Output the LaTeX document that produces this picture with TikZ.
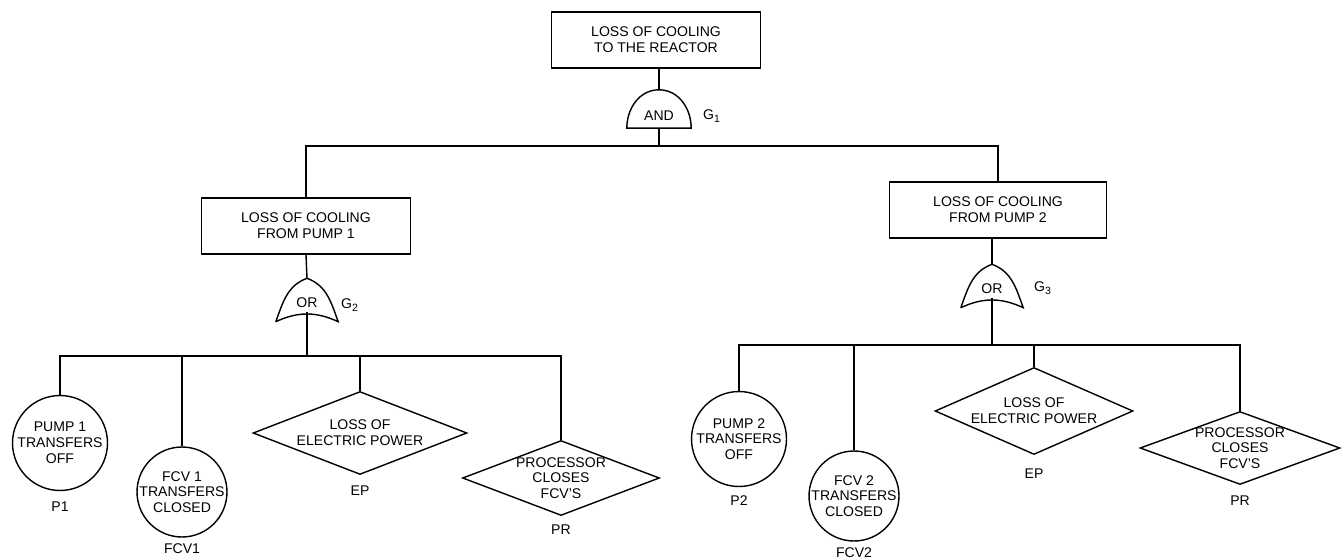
\documentclass[tikz,border=0pt]{standalone}
\usepackage{fontspec}
\setmainfont{Liberation Sans}
\usetikzlibrary{positioning, shapes.geometric}

\begin{document}
\begin{tikzpicture}[
    x=0.02cm, y=0.02cm,
    line width=0.8pt,
    every node/.style={font=\fontsize{8}{9}\selectfont},
    evbox/.style={draw, rectangle, minimum width=4.18cm, minimum height=1.12cm, align=center, inner sep=0pt},
    andgate/.style={inner sep=0pt, minimum width=1.26cm, text height=0.61cm, text depth=0.13cm},
    orgate/.style={inner sep=0pt, minimum width=1.22cm, text height=0.56cm, text depth=0.28cm},
    gid/.style={inner sep=0pt},
    evcirc/.style={draw, circle, inner sep=0pt, minimum size=1.9cm},
    evdiam/.style={draw, diamond, inner sep=0pt},
    evtext/.style={align=center, inner sep=0pt},
    evid/.style={inner sep=0pt, label distance=2mm},
]
\useasboundingbox (0,0) rectangle (1344,559);

% top event and AND gate
\node[evbox] (top) at (656,519) {LOSS OF COOLING\\TO THE REACTOR};
\node[andgate] (g1) at (659,450) {AND};
\node[gid] (g1id) at (712,443) {G\textsubscript{1}};
\coordinate (j1) at (659,413);

% intermediate events
\node[evbox] (l1) at (306,333) {LOSS OF COOLING\\FROM PUMP 1};
\node[evbox, minimum width=4.34cm] (r1) at (998,349) {LOSS OF COOLING\\FROM PUMP 2};

\node[orgate] (g2) at (307,259) {OR};
\node[gid] (g2id) at (350,254) {G\textsubscript{2}};
\coordinate (j2) at (307,203);

\node[orgate] (g3) at (992,273) {OR};
\node[gid] (g3id) at (1043,271) {G\textsubscript{3}};
\coordinate (j3) at (992,214);

% basic events, pump 1
\node[evcirc, label={[evtext]center:{PUMP 1\\TRANSFERS\\OFF}}, label={[evid]below:P1}] (p1) at (60,116) {};
\node[evcirc, minimum size=1.8cm, label={[evtext]center:{FCV 1\\TRANSFERS\\CLOSED}}, label={[evid, label distance=1mm]below:FCV1}] (fcv1) at (182,67) {};
\node[evdiam, minimum width=4.28cm, minimum height=1.66cm, label={[evtext]center:{LOSS OF\\ELECTRIC POWER}}, label={[evid]below:EP}] (ep1) at (360,126) {};
\node[evdiam, minimum width=3.94cm, minimum height=1.5cm, label={[evtext]center:{PROCESSOR\\CLOSES\\FCV'S}}, label={[evid, label distance=1.5mm]below:PR}] (pr1) at (561,81) {};

% basic events, pump 2
\node[evcirc, label={[evtext]center:{PUMP 2\\TRANSFERS\\OFF}}, label={[evid, label distance=1.5mm]below:P2}] (p2) at (739,120) {};
\node[evcirc, minimum size=1.8cm, label={[evtext]center:{FCV 2\\TRANSFERS\\CLOSED}}, label={[evid, label distance=1mm]below:FCV2}] (fcv2) at (854,63) {};
\node[evdiam, minimum width=3.96cm, minimum height=1.74cm, label={[evtext]center:{LOSS OF\\ELECTRIC POWER}}, label={[evid, label distance=2.5mm]below:EP}] (ep2) at (1034,148) {};
\node[evdiam, minimum width=4cm, minimum height=1.46cm, label={[evtext]center:{PROCESSOR\\CLOSES\\FCV'S}}, label={[evid]below:PR}] (pr2) at (1240,111) {};

% gate outlines
\draw (g1.south west) to[out=90,in=180] (g1.north) to[out=0,in=90] (g1.south east) -- cycle;
\foreach \g in {g2, g3}
  \draw (\g.south west) to[out=70,in=200] (\g.north) to[out=-20,in=110] (\g.south east)
        to[out=155,in=25] (\g.south west);

% connectors
\draw (g1.north |- top.south) -- (g1.north);
\draw (g1.south) -- (j1);
\draw (l1.north) |- (j1) -| (r1.north);
\draw (l1.south) -- (g2.north);
\draw (g3.north |- r1.south) -- (g3.north);

\draw ([yshift=2mm]g2.south) -- (j2);
\draw (p1.north) |- (j2) -| (pr1.north);
\draw (fcv1.north) -- (fcv1.north |- j2);
\draw (ep1.north) -- (ep1.north |- j2);

\draw ([yshift=2mm]g3.south) -- (j3);
\draw (p2.north) |- (j3) -| (pr2.north);
\draw (fcv2.north) -- (fcv2.north |- j3);
\draw (ep2.north) -- (ep2.north |- j3);
\end{tikzpicture}
\end{document}
